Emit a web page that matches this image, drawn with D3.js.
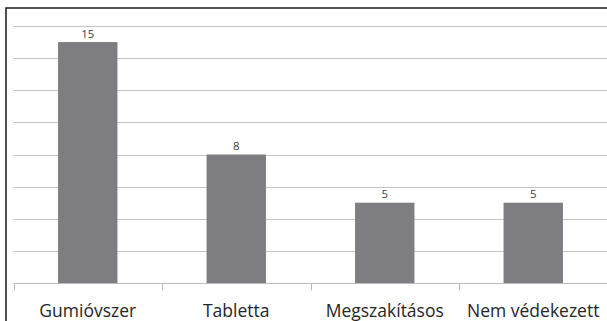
<!DOCTYPE html>
<html>
<head>
<meta charset="utf-8">
<script src="https://cdn.jsdelivr.net/npm/d3@7"></script>
<style>
  body { margin: 0; background: #fff; }
  svg { display: block; }
</style>
</head>
<body>
<div id="chart"></div>
<script>
let width = 607, height = 321;

let margin = ({top: 26, right: 0, bottom: 38, left: 13.5});

// data
let categories = ["Gumióvszer", "Tabletta", "Megszakításos", "Nem védekezett"];
let values = [15, 8, 5, 5];
let gridTicks = [0, 2, 4, 6, 8, 10, 12, 14, 16];

let svg = d3.select("#chart")
    .append("svg")
    .attr("width", width)
    .attr("height", height);

let xScale = d3.scaleBand()
    .domain(categories)
    .range([margin.left, 607.5])
    .paddingInner(0.6)
    .paddingOuter(0.3);

let yScale = d3.scaleLinear()
    .domain([0, 16])
    .range([height - margin.bottom, margin.top]);

// outer border (only top and left are inside the picture)
svg.append("rect")
    .attr("x", 6)
    .attr("y", 8)
    .attr("width", 620)
    .attr("height", 340)
    .attr("fill", "none")
    .attr("stroke", "#1a1a1a")
    .attr("stroke-width", 1.5);

// horizontal gridlines
svg.append("g")
    .selectAll("line")
    .data(gridTicks.filter(d => d > 0))
    .enter()
    .append("line")
    .attr("x1", margin.left)
    .attr("x2", width)
    .attr("y1", d => Math.round(yScale(d)) + 0.5)
    .attr("y2", d => Math.round(yScale(d)) + 0.5)
    .attr("stroke", "#c4c4c4")
    .attr("stroke-width", 1);

// bars
let data = categories.map((c, i) => ({cat: c, value: values[i]}));

svg.append("g")
    .selectAll("rect")
    .data(data)
    .enter()
    .append("rect")
    .attr("x", d => xScale(d.cat))
    .attr("y", d => yScale(d.value))
    .attr("width", xScale.bandwidth())
    .attr("height", d => yScale(0) - yScale(d.value))
    .attr("fill", "#7e7e82");

// value labels
svg.append("g")
    .selectAll("text")
    .data(data)
    .enter()
    .append("text")
    .attr("x", d => xScale(d.cat) + xScale.bandwidth() / 2)
    .attr("y", d => yScale(d.value) - 4.5)
    .attr("text-anchor", "middle")
    .attr("font-family", "Open Sans")
    .attr("font-size", 11.5)
    .attr("fill", "#404040")
    .text(d => d.value);

// x axis with ticks between categories
let step = xScale.step();
let axisY = Math.round(yScale(0)) + 0.5;
let boundaries = d3.range(categories.length + 1).map(i => margin.left + i * step);

let gX = svg.append("g");
gX.append("line")
    .attr("x1", margin.left)
    .attr("x2", width)
    .attr("y1", axisY)
    .attr("y2", axisY)
    .attr("stroke", "#bcbcbc");

gX.selectAll(".tick")
    .data(boundaries)
    .enter()
    .append("line")
    .attr("class", "tick")
    .attr("x1", d => Math.round(d) + 0.5)
    .attr("x2", d => Math.round(d) + 0.5)
    .attr("y1", axisY)
    .attr("y2", axisY + 7)
    .attr("stroke", "#bcbcbc");

gX.selectAll(".cat")
    .data(categories)
    .enter()
    .append("text")
    .attr("class", "cat")
    .attr("x", d => xScale(d) + xScale.bandwidth() / 2)
    .attr("y", 317)
    .attr("text-anchor", "middle")
    .attr("font-family", "Open Sans")
    .attr("font-size", 17.5)
    .attr("fill", "#262626")
    .text(d => d);
</script>
</body>
</html>
